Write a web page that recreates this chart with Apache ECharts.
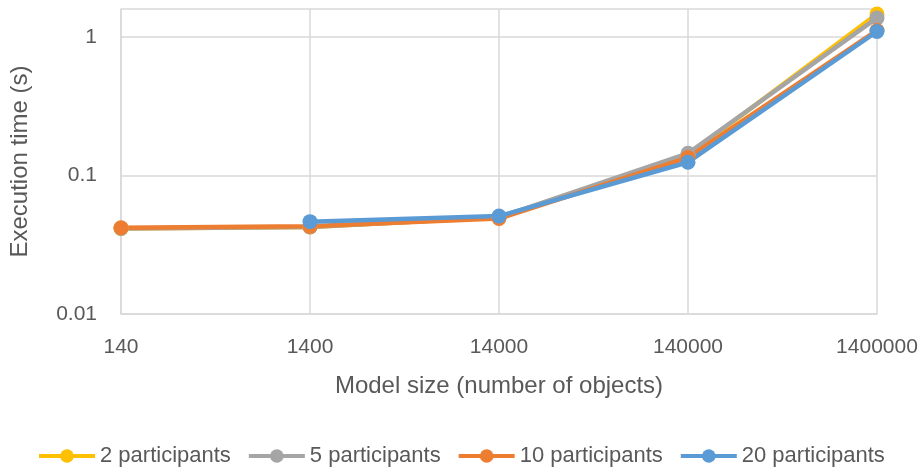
<!DOCTYPE html>
<html>
<head>
<meta charset="utf-8">
<script src="https://cdn.jsdelivr.net/npm/echarts@6/dist/echarts.min.js"></script>
<style>html,body{margin:0;padding:0;background:#fff;}#c{width:921px;height:473px;}</style>
</head>
<body>
<div id="c"></div>
<script>
var modelSizes = ['140', '1400', '14000', '140000', '1400000'];
var p2 = [0.0415, 0.0425, 0.050, 0.140, 1.47];
var p5 = [0.0415, 0.0425, 0.050, 0.145, 1.38];
var p10 = [0.0420, 0.0430, 0.049, 0.135, 1.12];
var p20 = [null, 0.0465, 0.051, 0.125, 1.10];
var seriesNames = ['2 participants', '5 participants', '10 participants', '20 participants'];
var seriesColors = ['#FFC000', '#A5A5A5', '#ED7D31', '#5B9BD5'];
var yTickLabels = {'-2': '0.01', '-1': '0.1', '0': '1'};

var font = 'Liberation Sans';
var textColor = '#595959';
var gridColor = '#d9d9d9';
var chart = echarts.init(document.getElementById('c'), null, {renderer: 'canvas'});
var dataSets = [p2, p5, p10, p20];
var series = dataSets.map(function (d, i) {
  return {
    name: seriesNames[i],
    type: 'line',
    data: d,
    color: seriesColors[i],
    symbol: 'circle',
    symbolSize: 15,
    lineStyle: {width: 4.5, color: seriesColors[i]},
    itemStyle: {color: seriesColors[i]},
    connectNulls: false
  };
});
chart.setOption({
  animation: false,
  backgroundColor: '#fff',
  textStyle: {fontFamily: font},
  grid: {left: 119, right: 44, top: 9, bottom: 159, containLabel: false},
  legend: {
    data: seriesNames,
    left: 37,
    top: 445,
    padding: 0,
    itemWidth: 56,
    itemHeight: 17,
    itemGap: 16,
    lineStyle: {width: 4},
    textStyle: {fontFamily: font, fontSize: 22, color: textColor}
  },
  xAxis: {
    type: 'category',
    data: modelSizes,
    boundaryGap: false,
    name: 'Model size (number of objects)',
    nameLocation: 'middle',
    nameGap: 60,
    nameTextStyle: {fontFamily: font, fontSize: 24, color: textColor},
    axisLine: {show: true, lineStyle: {color: gridColor, width: 1.5}},
    axisTick: {show: false},
    axisLabel: {fontFamily: font, fontSize: 21, color: textColor, margin: 23},
    splitLine: {show: true, lineStyle: {color: gridColor, width: 1.5}}
  },
  yAxis: {
    type: 'log',
    logBase: 10,
    min: 0.01,
    max: 1.6,
    name: 'Execution time (s)',
    nameLocation: 'middle',
    nameGap: 89,
    nameTextStyle: {fontFamily: font, fontSize: 24, color: textColor},
    axisLine: {show: true, lineStyle: {color: gridColor, width: 1.5}},
    axisTick: {show: false},
    axisLabel: {
      fontFamily: font, fontSize: 21, color: textColor, margin: 24,
      formatter: function (v) {
        var l = Math.log10(v);
        var r = Math.round(l);
        if (Math.abs(l - r) < 1e-6 && yTickLabels[String(r)] !== undefined) return yTickLabels[String(r)];
        return '';
      }
    },
    splitLine: {show: true, lineStyle: {color: gridColor, width: 1.5}}
  },
  series: series
});
</script>
</body>
</html>
